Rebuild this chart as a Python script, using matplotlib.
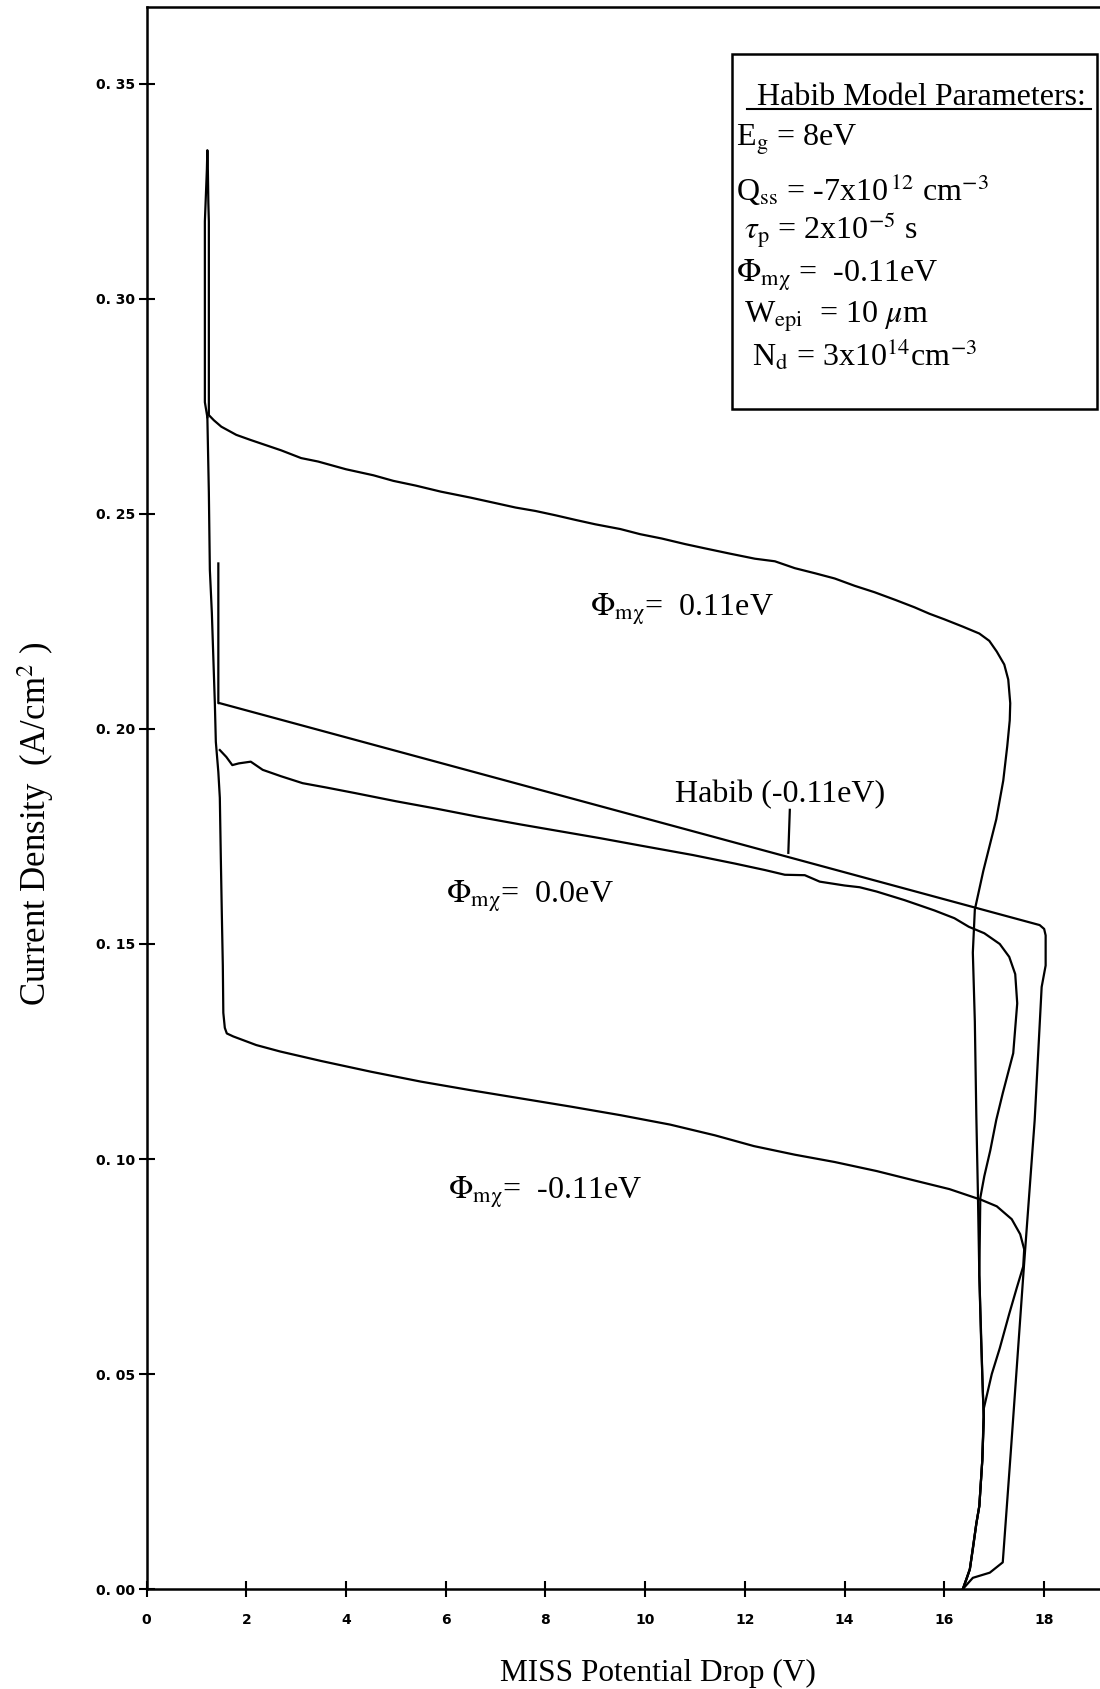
import numpy as np
import matplotlib
matplotlib.use('Agg')
import matplotlib.pyplot as plt
from matplotlib.lines import Line2D
from matplotlib.patches import Rectangle

plt.rcParams['font.family'] = ['Liberation Serif', 'DejaVu Serif']
plt.rcParams['mathtext.fontset'] = 'stix'

# curva Phi = 0.11 eV (rama vertical derecha, rama superior y pico)
v_011 = [16.37, 16.45, 16.51, 16.58, 16.64, 16.70, 16.76, 16.79, 16.77, 16.73, 16.70, 16.67,
         16.64, 16.61, 16.57, 16.61, 16.78, 17.04, 17.18, 17.26, 17.31, 17.32, 17.28, 17.20,
         17.05, 16.90, 16.70, 16.37, 16.0, 15.7, 15.4, 15.02, 14.6, 14.2, 13.8, 13.41, 13.0,
         12.6, 12.2, 11.69, 11.2, 10.8, 10.33, 9.9, 9.5, 9.0, 8.61, 8.2, 7.8, 7.4, 7.01, 6.5,
         5.9, 5.4, 4.95, 4.55, 4.0, 3.44, 3.1, 2.7, 2.09, 1.8, 1.5, 1.35, 1.25, 1.25, 1.25,
         1.24, 1.23, 1.22, 1.21, 1.19, 1.17, 1.17, 1.22]
j_011 = [0.000, 0.0025, 0.0046, 0.010, 0.0152, 0.0193, 0.030, 0.040, 0.046, 0.060, 0.073, 0.093,
         0.110, 0.132, 0.148, 0.158, 0.167, 0.179, 0.188, 0.196, 0.202, 0.206, 0.2115, 0.2150,
         0.2180, 0.2205, 0.2222, 0.2238, 0.2255, 0.2268, 0.2283, 0.2300, 0.2318, 0.2333, 0.2350,
         0.2362, 0.2374, 0.2390, 0.2396, 0.2408, 0.2420, 0.2430, 0.2443, 0.2453, 0.2465, 0.2476,
         0.2486, 0.2497, 0.2507, 0.2515, 0.2525, 0.2538, 0.2552, 0.2566, 0.2577, 0.2590, 0.2604,
         0.2622, 0.2630, 0.2648, 0.2672, 0.2684, 0.2703, 0.2718, 0.2730, 0.2780, 0.3180, 0.3223,
         0.3300, 0.3346, 0.3300, 0.3240, 0.3180, 0.2760, 0.2725]

# curva Phi = -0.11 eV
v_m011 = [1.22, 1.25, 1.27, 1.31, 1.37, 1.39, 1.44, 1.47, 1.49, 1.51, 1.53, 1.54, 1.57, 1.61,
          1.74, 2.2, 2.68, 3.5, 4.5, 5.5, 6.5, 7.5, 8.5, 9.5, 10.5, 11.4, 12.18, 13.0, 13.8,
          14.64, 15.4, 16.1, 16.74, 17.05, 17.35, 17.52, 17.60, 17.58, 17.45, 17.30, 17.11,
          16.95, 16.79, 16.76, 16.70, 16.64, 16.51, 16.37]
j_m011 = [0.2725, 0.255, 0.237, 0.227, 0.206, 0.197, 0.190, 0.184, 0.170, 0.157, 0.145, 0.134,
          0.1305, 0.1292, 0.1285, 0.1265, 0.1250, 0.1228, 0.1203, 0.1180, 0.1160, 0.1141,
          0.1122, 0.1102, 0.1080, 0.1055, 0.1030, 0.1010, 0.0993, 0.0972, 0.0950, 0.0930,
          0.0905, 0.0890, 0.0860, 0.0825, 0.0790, 0.0750, 0.0700, 0.0640, 0.0560, 0.0500,
          0.0420, 0.0300, 0.0193, 0.0152, 0.0046, 0.000]

# curva Phi = 0.0 eV
v_000 = [1.47, 1.60, 1.72, 1.85, 2.09, 2.33, 2.7, 3.13, 3.6, 4.18, 5.0, 5.8, 6.64, 7.5, 8.3,
         9.1, 9.9, 10.95, 11.8, 12.4, 12.8, 13.2, 13.5, 14.0, 14.3, 14.64, 15.2, 15.8, 16.2,
         16.49, 16.80, 17.11, 17.30, 17.42, 17.46, 17.38, 17.17, 17.04, 16.92, 16.80, 16.72,
         16.70, 16.77, 16.79, 16.76, 16.70, 16.64, 16.51, 16.37]
j_000 = [0.1951, 0.1935, 0.1916, 0.1920, 0.1924, 0.1905, 0.1890, 0.1874, 0.1864, 0.1851, 0.1832,
         0.1815, 0.1796, 0.1778, 0.1762, 0.1746, 0.1729, 0.1707, 0.1687, 0.1672, 0.1661, 0.1660,
         0.1645, 0.1636, 0.1632, 0.1622, 0.1602, 0.1578, 0.1560, 0.1540, 0.1525, 0.1500, 0.1470,
         0.1430, 0.1362, 0.1246, 0.1153, 0.1091, 0.1020, 0.0960, 0.0910, 0.073, 0.046, 0.040,
         0.030, 0.0193, 0.0152, 0.0046, 0.000]

# modelo de Habib (-0.11 eV)
v_habib = [1.44, 1.44, 1.47, 17.91, 18.00, 18.03, 18.03, 17.95, 17.81, 17.59, 17.33, 17.17,
           16.91, 16.57, 16.37]
j_habib = [0.2385, 0.2060, 0.2060, 0.1544, 0.1535, 0.1520, 0.1450, 0.1400, 0.1090, 0.0743,
           0.0317, 0.0062, 0.0038, 0.0026, 0.000]

xticks = [0, 2, 4, 6, 8, 10, 12, 14, 16, 18]
yticks = [0.00, 0.05, 0.10, 0.15, 0.20, 0.25, 0.30, 0.35]
ytick_labels = ['0. 00', '0. 05', '0. 10', '0. 15', '0. 20', '0. 25', '0. 30', '0. 35']

params = [r'E$_{\rm g}$ = 8eV',
          r'Q$_{\rm ss}$ = -7x10$^{\,12}$ cm$^{-3}$',
          r' $\tau_{\rm p}$ = 2x10$^{-5}$ s',
          r'$\Phi_{\rm m\chi}$ =  -0.11eV',
          r' W$_{\rm epi}$  = 10 $\mu$m',
          r'  N$_{\rm d}$ = 3x10$^{14}$cm$^{-3}$']
param_y = [0.9139, 0.8807, 0.8584, 0.8329, 0.8087, 0.7832]

fig = plt.figure(figsize=(11, 16.89), dpi=100)
ax = fig.add_axes([0.1332, 0.0592, 0.8668, 0.9364])

for v, j in [(v_011, j_011), (v_m011, j_m011), (v_000, j_000), (v_habib, j_habib)]:
    ax.plot(v, j, color='black', lw=1.6)

ax.set_xlim(0, 19.12)
ax.set_ylim(0, 0.3678)
ax.set_xticks(xticks)
ax.set_xticklabels([str(t) for t in xticks], fontfamily='DejaVu Sans', fontweight='bold', fontsize=10)
ax.set_yticks(yticks)
ax.set_yticklabels(ytick_labels, fontfamily='DejaVu Sans', fontweight='bold', fontsize=10)
ax.tick_params(axis='both', direction='inout', length=12, width=1.5, color='black')
ax.tick_params(axis='x', pad=11)
ax.tick_params(axis='y', pad=2)
for s in ['left', 'top', 'bottom']:
    ax.spines[s].set_linewidth(1.8)
ax.spines['right'].set_visible(False)

# etiquetas de las curvas
ax.text(8.89, 0.2263, r'$\Phi_{\rm m\chi}$=  0.11eV', fontsize=23)
ax.text(6.0, 0.1596, r'$\Phi_{\rm m\chi}$=  0.0eV', fontsize=23)
ax.text(6.04, 0.0908, r'$\Phi_{\rm m\chi}$=  -0.11eV', fontsize=23)
ax.text(10.6, 0.1830, 'Habib (-0.11eV)', fontsize=23)
ax.plot([12.90, 12.87], [0.1812, 0.1712], color='black', lw=1.6)

# cuadro de parametros
fig.patches.append(Rectangle((0.665, 0.758), 0.332, 0.210, transform=fig.transFigure,
                             fill=False, edgecolor='black', lw=1.8))
fig.text(0.6885, 0.9381, 'Habib Model Parameters:', fontsize=23)
fig.lines.append(Line2D([0.679, 0.992], [0.9355, 0.9355], transform=fig.transFigure,
                        color='black', lw=1.5))
for txt, y in zip(params, param_y):
    fig.text(0.669, y, txt, fontsize=23)

fig.text(0.598, 0.0094, 'MISS Potential Drop (V)', fontsize=22.5, ha='center', va='center')
fig.text(0.0323, 0.512, r'Current Density  (A/cm$^2$ )', fontsize=25, rotation=90,
         ha='center', va='center')

fig.savefig('out.png', dpi=100)
